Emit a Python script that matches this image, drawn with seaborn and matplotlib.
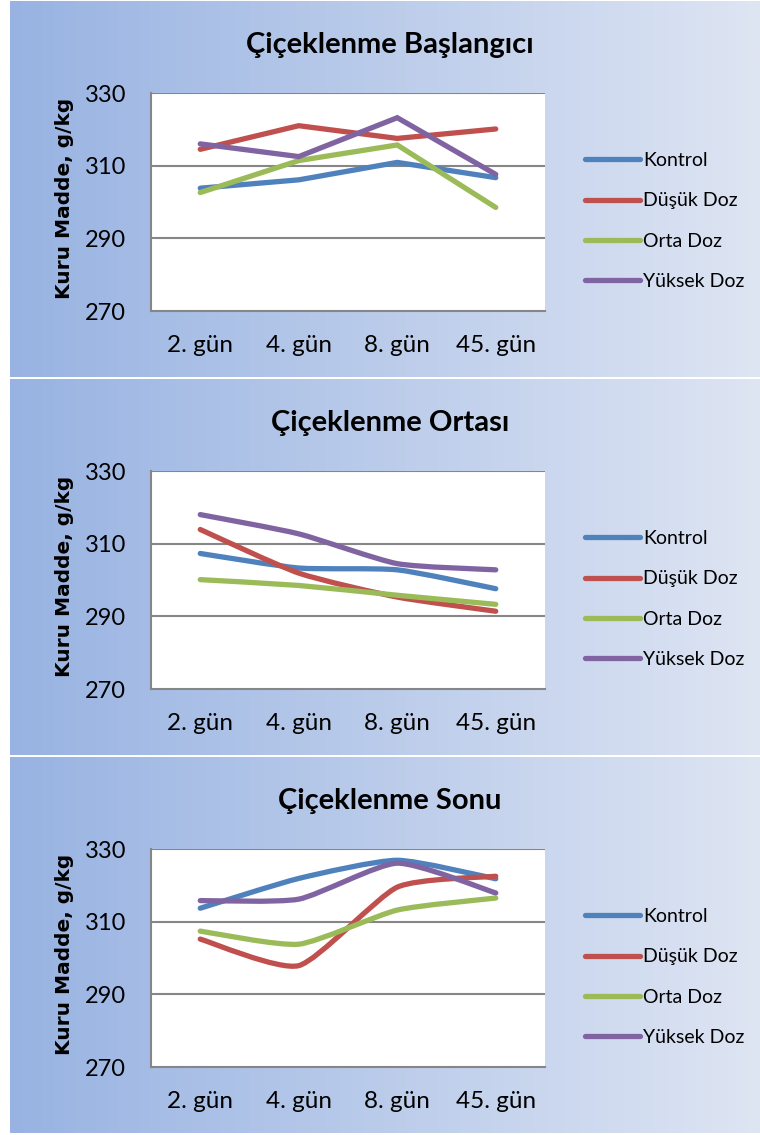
import numpy as np
import pandas as pd
import matplotlib
matplotlib.use("Agg")
import matplotlib.pyplot as plt
import seaborn as sns
from matplotlib.path import Path
from matplotlib.patches import PathPatch
from matplotlib.lines import Line2D
from matplotlib.colors import LinearSegmentedColormap

# Kuru madde (g/kg) verileri
gunler = ["2. gün", "4. gün", "8. gün", "45. gün"]
dozlar = ["Kontrol", "Düşük Doz", "Orta Doz", "Yüksek Doz"]
renkler = ["#4F81BD", "#C0504D", "#9BBB59", "#8064A2"]

baslangic_kontrol = [303.8, 306.1, 310.9, 306.7]
baslangic_dusuk = [314.5, 321.0, 317.5, 320.1]
baslangic_orta = [302.6, 311.4, 315.7, 298.5]
baslangic_yuksek = [316.0, 312.5, 323.2, 307.6]

orta_kontrol = [307.3, 303.3, 302.8, 297.6]
orta_dusuk = [313.9, 301.9, 295.3, 291.4]
orta_orta = [300.1, 298.5, 295.8, 293.3]
orta_yuksek = [318.0, 312.7, 304.5, 302.8]

sonu_kontrol = [313.7, 321.9, 326.9, 321.8]
sonu_dusuk = [305.2, 297.9, 319.5, 322.5]
sonu_orta = [307.4, 303.8, 313.2, 316.5]
sonu_yuksek = [315.8, 316.2, 326.1, 317.9]

basliklar = ["Çiçeklenme Başlangıcı", "Çiçeklenme Ortası", "Çiçeklenme Sonu"]
paneller = [
    [baslangic_kontrol, baslangic_dusuk, baslangic_orta, baslangic_yuksek],
    [orta_kontrol, orta_dusuk, orta_orta, orta_yuksek],
    [sonu_kontrol, sonu_dusuk, sonu_orta, sonu_yuksek],
]
yumusak = [False, True, True]
y_ticks = [270, 290, 310, 330]

sns.set_theme(style="white")
plt.rcParams["font.family"] = ["Lato", "DejaVu Sans"]
plt.rcParams["text.color"] = "black"

W, H = 760, 1135
fig = plt.figure(figsize=(W / 100, H / 100), dpi=100)
fig.patch.set_facecolor("white")


def rect(x, y, w, h):
    return [x / W, 1 - (y + h) / H, w / W, h / H]


grad_cmap = LinearSegmentedColormap.from_list("bg", ["#98B3E2", "#DEE5F3"])
grad = np.linspace(0, 1, 256).reshape(1, -1)
gri = "#868686"
LW = 3.8


def smooth_path(xs, ys, f=0.1):
    """Bezier curve through the points (cardinal-spline control points)."""
    pts = np.column_stack([xs, ys]).astype(float)
    n = len(pts)
    verts = [pts[0]]
    codes = [Path.MOVETO]
    for i in range(n - 1):
        p0 = pts[i - 1] if i > 0 else pts[i]
        p1 = pts[i]
        p2 = pts[i + 1]
        p3 = pts[i + 2] if i + 2 < n else pts[i + 1]
        c1 = p1 + (p2 - p0) * f
        c2 = p2 - (p3 - p1) * f
        verts += [c1, c2, p2]
        codes += [Path.CURVE4] * 3
    return Path(verts, codes)


for k in range(3):
    top = 1 + k * 378
    # panel arka planı
    bg = fig.add_axes(rect(10, top, 750, 376), zorder=0)
    bg.imshow(grad, aspect="auto", cmap=grad_cmap, extent=[0, 1, 0, 1])
    bg.set_axis_off()

    ax = fig.add_axes(rect(151, top + 92, 394, 218), zorder=2)
    ax.set_facecolor("white")
    x = np.arange(len(gunler))
    seriler = paneller[k]

    if not yumusak[k]:
        df = pd.DataFrame({
            "x": np.tile(x, len(dozlar)),
            "deger": np.concatenate(seriler),
            "doz": np.repeat(dozlar, len(gunler)),
        })
        sns.lineplot(data=df, x="x", y="deger", hue="doz", hue_order=dozlar,
                     palette=renkler, linewidth=LW, legend=False, ax=ax,
                     solid_capstyle="round", solid_joinstyle="miter", zorder=3)
    else:
        for s, c in zip(seriler, renkler):
            ax.add_patch(PathPatch(smooth_path(x, s), fill=False, edgecolor=c,
                                   lw=LW, capstyle="round", joinstyle="round",
                                   zorder=3))

    ax.set_xlim(-0.5, 3.5)
    ax.set_ylim(270, 330)
    ax.set_yticks(y_ticks)
    ax.set_yticklabels([str(v) for v in y_ticks], fontsize=17)
    ax.set_xticks(x)
    ax.set_xticklabels(gunler, fontsize=17.5)
    ax.tick_params(axis="y", length=0, pad=18, colors="black")
    ax.tick_params(axis="x", length=0, pad=17.5, colors="black")
    ax.set_xlabel("")
    ax.set_ylabel("")
    ax.grid(False)
    for v in y_ticks[1:]:
        ax.axhline(v, color=gri, lw=1.5, zorder=1)
    for side in ["top", "right"]:
        ax.spines[side].set_visible(False)
    for side in ["left", "bottom"]:
        ax.spines[side].set_color(gri)
        ax.spines[side].set_linewidth(1.5)

    fig.text(390 / W, 1 - (top + 44) / H, basliklar[k], ha="center", va="center",
             fontsize=21, fontweight="bold", color="black")
    fig.text(65 / W, 1 - (top + 197) / H, "Kuru Madde, g/kg", rotation=90,
             ha="center", va="center", fontsize=14.5, fontweight="bold",
             family=["DejaVu Sans"], color="black")

    handles = [Line2D([0], [0], color=c, lw=LW, solid_capstyle="round") for c in renkler]
    leg = ax.legend(handles, dozlar, loc="center left",
                    bbox_to_anchor=(585 / W, 1 - (top + 220) / H),
                    bbox_transform=fig.transFigure, frameon=False, fontsize=14,
                    handlelength=2.85, handletextpad=0.15, labelspacing=1.2,
                    borderpad=0, borderaxespad=0)
    for t in leg.get_texts():
        t.set_color("black")

fig.savefig("out.png", dpi=100, facecolor="white")
